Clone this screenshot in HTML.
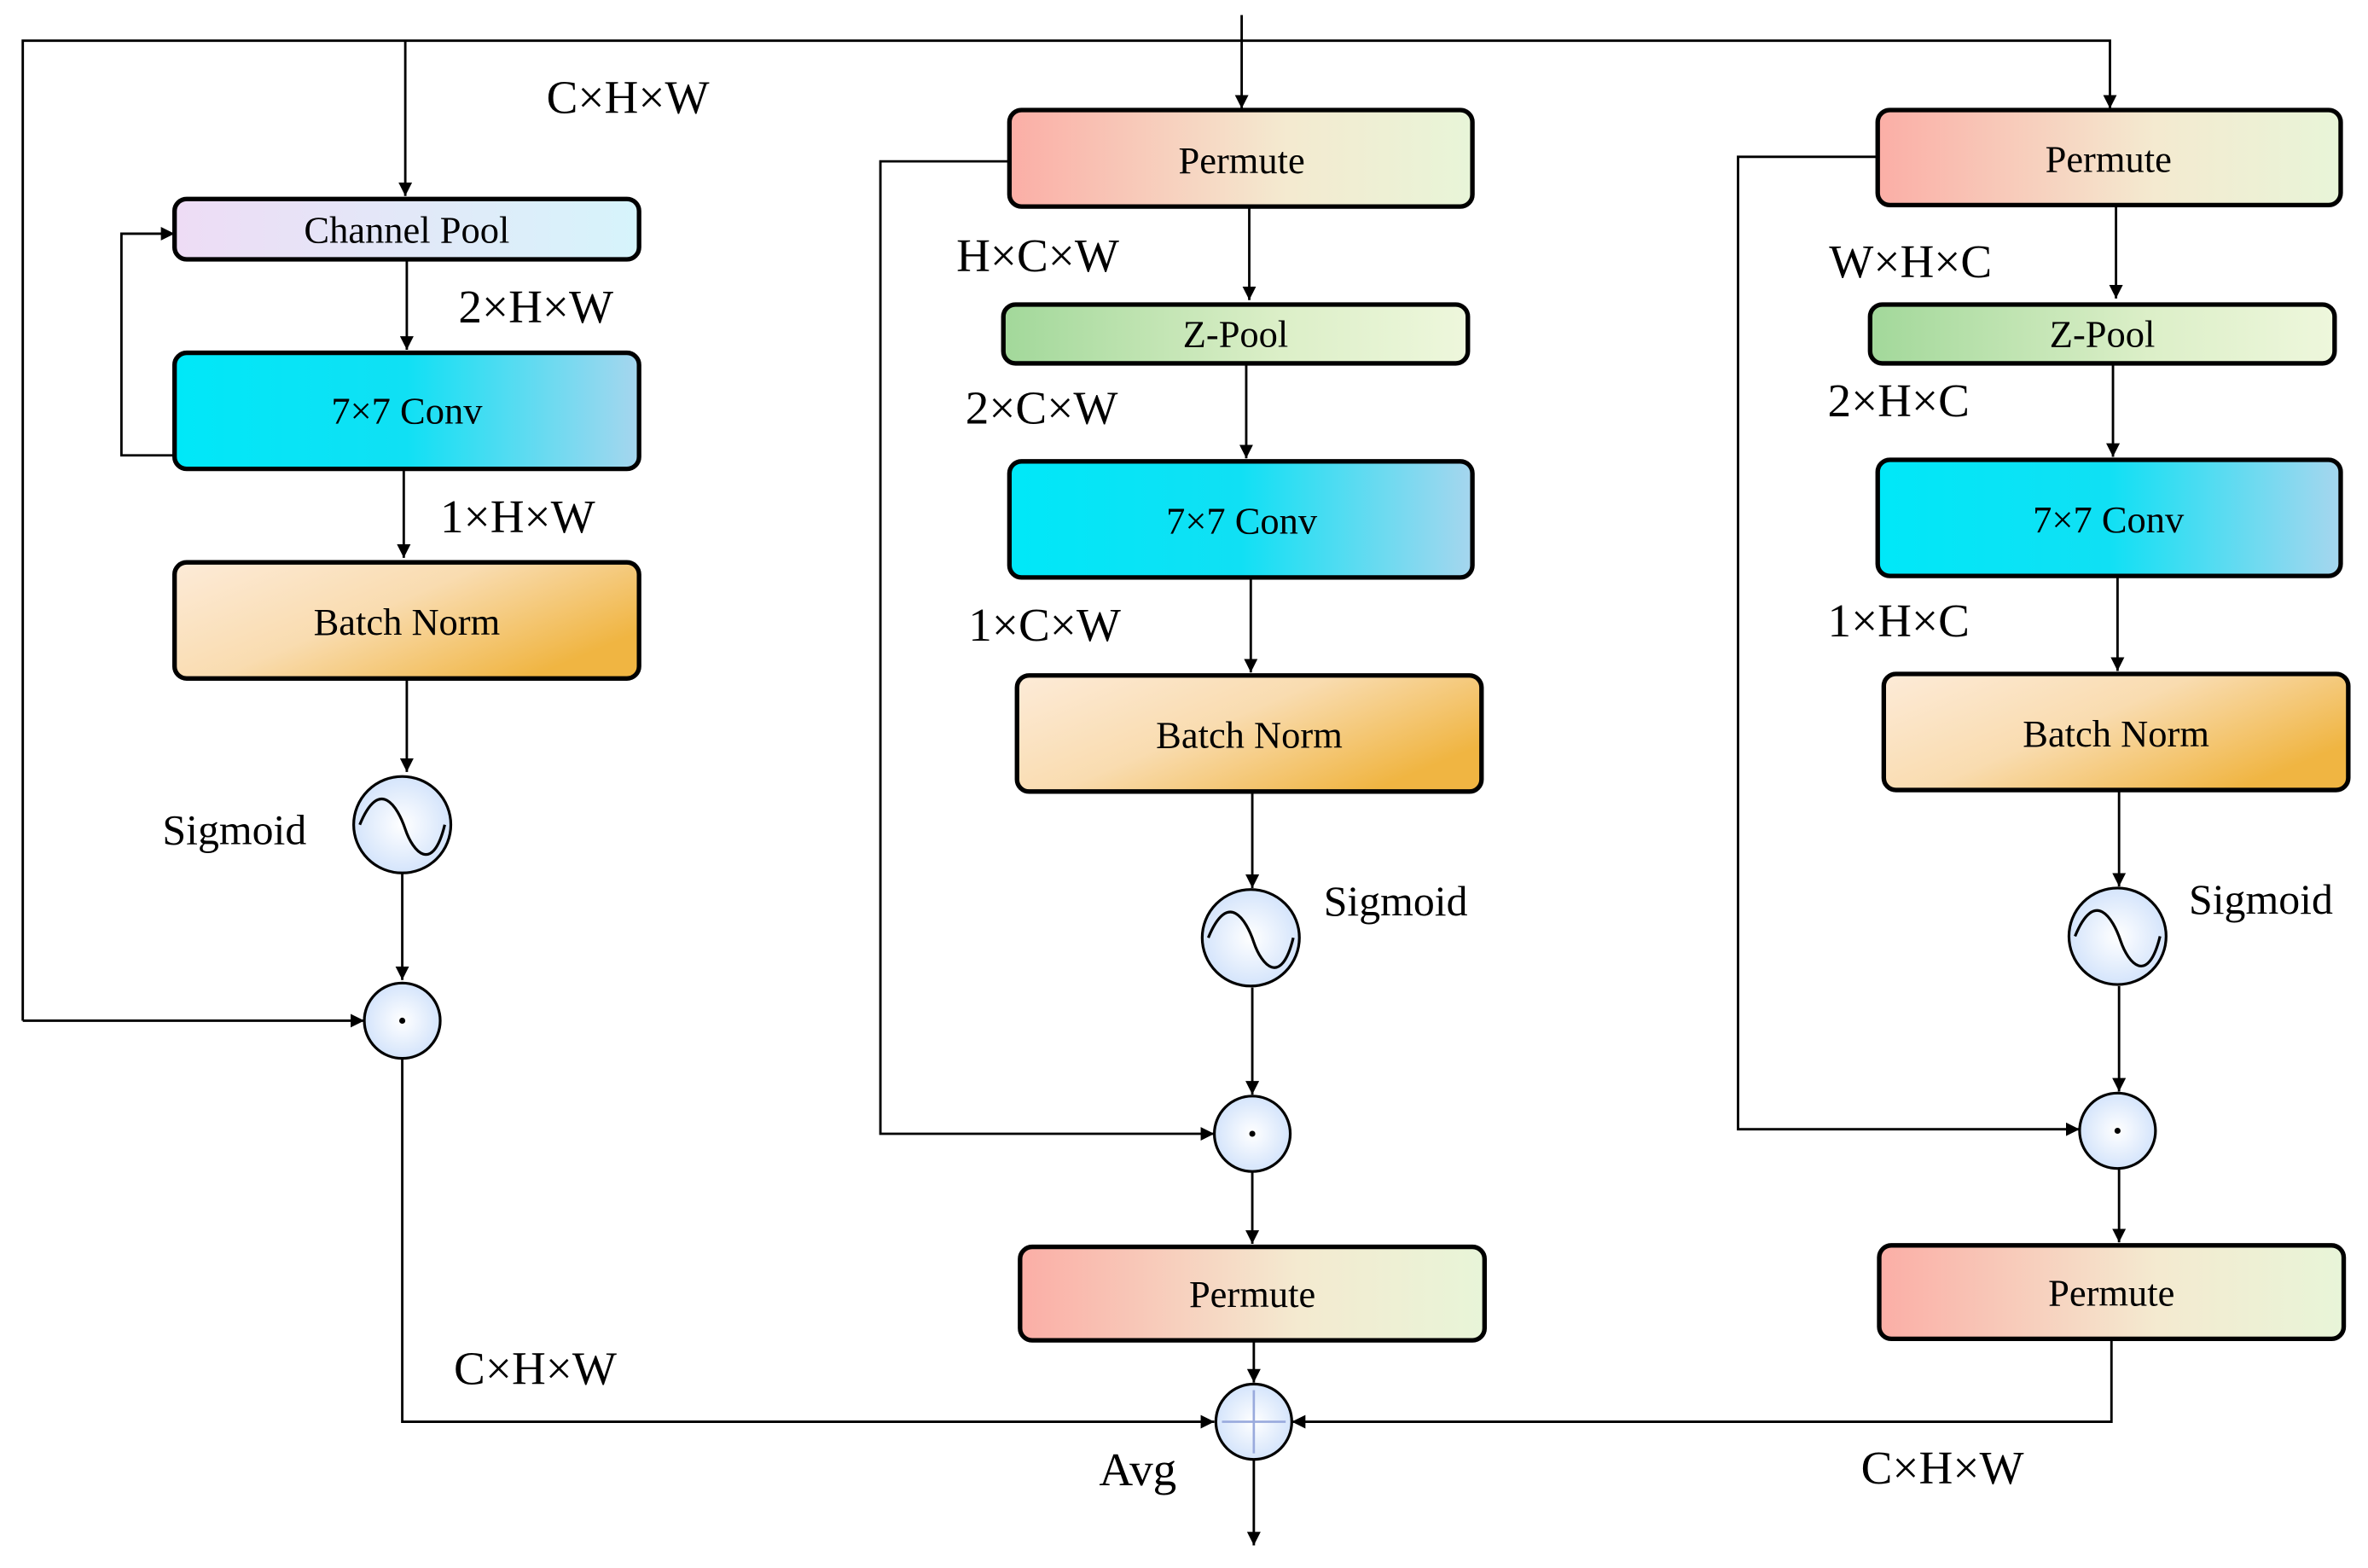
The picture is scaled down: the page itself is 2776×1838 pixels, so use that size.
<!DOCTYPE html>
<html><head><meta charset="utf-8"><style>html,body{margin:0;padding:0;background:#fff}svg{display:block}</style></head><body>
<svg width="2776" height="1838" viewBox="0 0 1560 1040" preserveAspectRatio="none" xmlns="http://www.w3.org/2000/svg" font-family="Liberation Serif, serif">
<defs>
<linearGradient id="cp" x1="0" x2="1"><stop offset="0" stop-color="#eedcf5"/><stop offset="1" stop-color="#d6f4fb"/></linearGradient>
<linearGradient id="cv" x1="0" x2="1"><stop offset="0" stop-color="#00e8f8"/><stop offset="0.5" stop-color="#10e0f4"/><stop offset="1" stop-color="#a6d6ee"/></linearGradient>
<linearGradient id="bn" x1="0" x2="1" y1="0" y2="0.6"><stop offset="0" stop-color="#fdebd8"/><stop offset="0.5" stop-color="#f9dcb0"/><stop offset="1" stop-color="#f0b542"/></linearGradient>
<linearGradient id="pm" x1="0" x2="1"><stop offset="0" stop-color="#fbaea6"/><stop offset="0.6" stop-color="#f4ead0"/><stop offset="1" stop-color="#e8f5d8"/></linearGradient>
<linearGradient id="zp" x1="0" x2="1"><stop offset="0" stop-color="#a2d89a"/><stop offset="0.6" stop-color="#dcefc8"/><stop offset="1" stop-color="#eef7dc"/></linearGradient>
<radialGradient id="ci"><stop offset="0" stop-color="#fff"/><stop offset="1" stop-color="#d4e4fb"/></radialGradient>
<marker id="a" viewBox="0 0 10 10" refX="10" refY="5" markerWidth="9" markerHeight="9" markerUnits="userSpaceOnUse" orient="auto"><path d="M0,0L10,5L0,10z" fill="#000"/></marker>
</defs>
<g stroke="#000" stroke-width="1.6" fill="none">
<polyline points="15,677 15,27 1390,27 1390,72" marker-end="url(#a)"/>
<line x1="15" y1="677" x2="240" y2="677" marker-end="url(#a)"/>
<line x1="818" y1="10" x2="818" y2="72" marker-end="url(#a)"/>
<line x1="267" y1="27" x2="267" y2="130" marker-end="url(#a)"/>
<line x1="268" y1="172" x2="268" y2="232" marker-end="url(#a)"/>
<polyline points="115,302 80,302 80,155 115,155" marker-end="url(#a)"/>
<line x1="266" y1="311" x2="266" y2="370" marker-end="url(#a)"/>
<line x1="268" y1="450" x2="268" y2="512" marker-end="url(#a)"/>
<line x1="265" y1="579" x2="265" y2="650" marker-end="url(#a)"/>
<polyline points="265,702 265,943 800,943" marker-end="url(#a)"/>
<polyline points="665,107 580,107 580,752 800,752" marker-end="url(#a)"/>
<line x1="823" y1="137" x2="823" y2="199" marker-end="url(#a)"/>
<line x1="821" y1="241" x2="821" y2="304" marker-end="url(#a)"/>
<line x1="824" y1="383" x2="824" y2="446" marker-end="url(#a)"/>
<line x1="825" y1="525" x2="825" y2="589" marker-end="url(#a)"/>
<line x1="825" y1="655" x2="825" y2="726" marker-end="url(#a)"/>
<line x1="825" y1="777" x2="825" y2="825" marker-end="url(#a)"/>
<line x1="826" y1="889" x2="826" y2="917" marker-end="url(#a)"/>
<line x1="826" y1="968" x2="826" y2="1025" marker-end="url(#a)"/>
<polyline points="1237,104 1145,104 1145,749 1370,749" marker-end="url(#a)"/>
<line x1="1394" y1="136" x2="1394" y2="198" marker-end="url(#a)"/>
<line x1="1392" y1="241" x2="1392" y2="303" marker-end="url(#a)"/>
<line x1="1395" y1="382" x2="1395" y2="445" marker-end="url(#a)"/>
<line x1="1396" y1="524" x2="1396" y2="588" marker-end="url(#a)"/>
<line x1="1396" y1="654" x2="1396" y2="724" marker-end="url(#a)"/>
<line x1="1396" y1="775" x2="1396" y2="824" marker-end="url(#a)"/>
<polyline points="1391,888 1391,943 851,943" marker-end="url(#a)"/>
</g>
<g stroke="#000" stroke-width="3">
<rect x="115" y="132" width="306" height="40" rx="8" fill="url(#cp)"/>
<rect x="115" y="234" width="306" height="77" rx="8" fill="url(#cv)"/>
<rect x="115" y="373" width="306" height="77" rx="8" fill="url(#bn)"/>
<rect x="665" y="73" width="305" height="64" rx="8" fill="url(#pm)"/>
<rect x="661" y="202" width="306" height="39" rx="8" fill="url(#zp)"/>
<rect x="665" y="306" width="305" height="77" rx="8" fill="url(#cv)"/>
<rect x="670" y="448" width="306" height="77" rx="8" fill="url(#bn)"/>
<rect x="672" y="827" width="306" height="62" rx="8" fill="url(#pm)"/>
<rect x="1237" y="73" width="305" height="63" rx="8" fill="url(#pm)"/>
<rect x="1232" y="202" width="306" height="39" rx="8" fill="url(#zp)"/>
<rect x="1237" y="305" width="305" height="77" rx="8" fill="url(#cv)"/>
<rect x="1241" y="447" width="306" height="77" rx="8" fill="url(#bn)"/>
<rect x="1238" y="826" width="306" height="62" rx="8" fill="url(#pm)"/>
</g>
<g stroke="#000" stroke-width="1.8" fill="url(#ci)">
<circle cx="265" cy="547" r="32"/><circle cx="824" cy="622" r="32"/><circle cx="1395" cy="621" r="32"/>
<circle cx="265" cy="677" r="25"/><circle cx="825" cy="752" r="25"/><circle cx="1395" cy="750" r="25"/>
<circle cx="826" cy="943" r="25"/>
</g>
<g stroke="#000" stroke-width="1.8" fill="none">
<path d="M237,547 C250,515 262,535 267,550 C272,565 285,580 293,547"/>
<path d="M796,622 C809,590 821,610 826,625 C831,640 844,655 852,622"/>
<path d="M1367,621 C1380,589 1392,609 1397,624 C1402,639 1415,654 1423,621"/>
</g>
<g stroke="#99aadd" stroke-width="1.5"><line x1="805" y1="943" x2="847" y2="943"/><line x1="826" y1="922" x2="826" y2="964"/></g>
<g fill="#000"><circle cx="265" cy="677" r="2"/><circle cx="825" cy="752" r="2"/><circle cx="1395" cy="750" r="2"/></g>
<g font-size="25" text-anchor="middle" fill="#000">
<text x="268" y="161">Channel Pool</text>
<text x="268" y="281">7×7 Conv</text>
<text x="268" y="421">Batch Norm</text>
<text x="818" y="115">Permute</text>
<text x="814" y="230">Z-Pool</text>
<text x="818" y="354">7×7 Conv</text>
<text x="823" y="496">Batch Norm</text>
<text x="825" y="867">Permute</text>
<text x="1389" y="114">Permute</text>
<text x="1385" y="230">Z-Pool</text>
<text x="1389" y="353">7×7 Conv</text>
<text x="1394" y="495">Batch Norm</text>
<text x="1391" y="866">Permute</text>
</g>
<g font-size="31" fill="#000">
<text x="360" y="75">C×H×W</text>
<text x="302" y="214">2×H×W</text>
<text x="290" y="353">1×H×W</text>
<text x="107" y="560" font-size="28">Sigmoid</text>
<text x="299" y="918">C×H×W</text>
<text x="630" y="180">H×C×W</text>
<text x="636" y="281">2×C×W</text>
<text x="638" y="425">1×C×W</text>
<text x="872" y="607" font-size="28">Sigmoid</text>
<text x="724" y="985">Avg</text>
<text x="1205" y="184">W×H×C</text>
<text x="1204" y="276">2×H×C</text>
<text x="1204" y="422">1×H×C</text>
<text x="1442" y="606" font-size="28">Sigmoid</text>
<text x="1226" y="984">C×H×W</text>
</g>
</svg>
</body></html>
